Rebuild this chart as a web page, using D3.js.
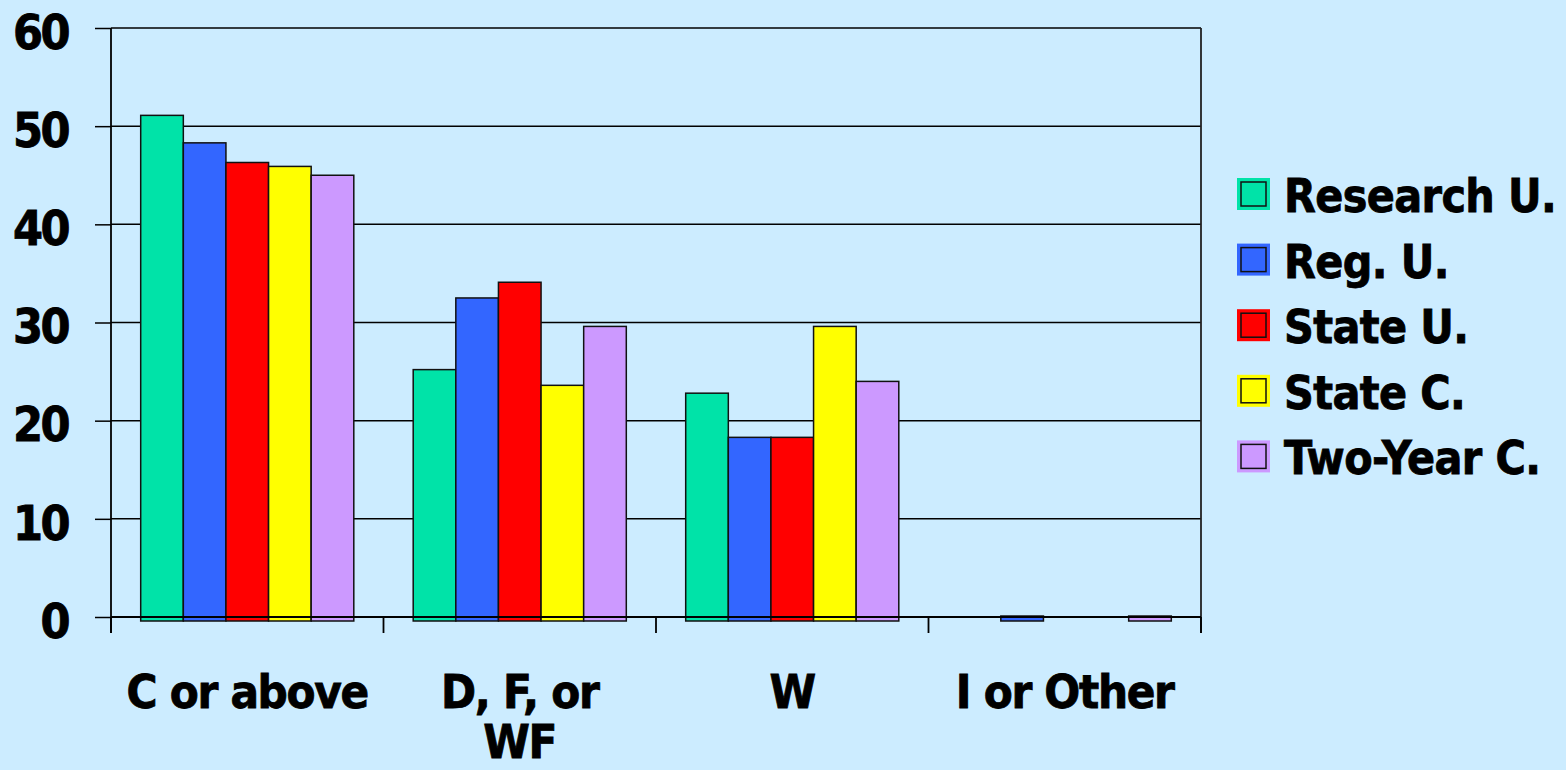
<!DOCTYPE html>
<html><head><meta charset="utf-8">
<script src="https://cdn.jsdelivr.net/npm/d3@7"></script>
<style>
html,body{margin:0;padding:0;background:#CCECFF;}
svg{display:block;}
text{font-family:"DejaVu Sans Condensed","DejaVu Sans",sans-serif;font-weight:bold;fill:#000;stroke:#000;stroke-width:0.8px;}
</style></head>
<body>
<svg id="chart" width="1566" height="770"></svg>
<script>
const categories = ["C or above", "D, F, or WF", "W", "I or Other"];
const categoryLines = [["C or above"], ["D, F, or", "WF"], ["W"], ["I or Other"]];
const seriesNames = ["Research U.", "Reg. U.", "State U.", "State C.", "Two-Year C."];
const seriesColors = ["#00E3A8", "#3366FF", "#FF0000", "#FFFF00", "#CC99FF"];
const researchU = [51.1, 25.2, 22.8, 0];
const regU = [48.3, 32.5, 18.3, 0.1];
const stateU = [46.3, 34.1, 18.3, 0];
const stateC = [45.9, 23.6, 29.6, 0];
const twoYearC = [45.0, 29.6, 24.0, 0.1];
const yTicks = [0, 10, 20, 30, 40, 50, 60];

const seriesValues = [researchU, regU, stateU, stateC, twoYearC];
const svg = d3.select("#chart");
const m = {left: 111, right: 1201, top: 28, bottom: 617};

const x0 = d3.scaleBand().domain(categories).range([m.left, m.right]).paddingInner(0.218).paddingOuter(0.109);
const x1 = d3.scaleBand().domain(seriesNames).range([0, x0.bandwidth()]).padding(0);
const y = d3.scaleLinear().domain([0, 60]).range([m.bottom, m.top]);

// gridlines
svg.append("g").selectAll("line").data(yTicks.filter(d => d > 0)).join("line")
  .attr("x1", m.left).attr("x2", m.right)
  .attr("y1", d => y(d)).attr("y2", d => y(d))
  .attr("stroke", "#000").attr("stroke-width", 1.5);
// right border
svg.append("line").attr("x1", m.right).attr("x2", m.right).attr("y1", m.top).attr("y2", m.bottom + 16)
  .attr("stroke", "#222").attr("stroke-width", 1.8);

// bars
const depth = 4;
const groups = svg.append("g").selectAll("g").data(categories).join("g")
  .attr("transform", d => `translate(${x0(d)},0)`);
groups.selectAll("rect")
  .data((c, ci) => seriesNames.map((s, si) => ({s, si, v: seriesValues[si][ci]})).filter(d => d.v > 0))
  .join("rect")
  .attr("x", d => x1(d.s)).attr("width", x1.bandwidth())
  .attr("y", d => y(d.v)).attr("height", d => y(0) + depth - y(d.v))
  .attr("fill", d => seriesColors[d.si])
  .attr("stroke", "#111").attr("stroke-width", 1.5);

// y axis
const yAxis = d3.axisLeft(y).tickValues(yTicks).tickSize(16).tickPadding(27);
const gy = svg.append("g").attr("transform", `translate(${m.left},0)`).call(yAxis);
gy.select(".domain").attr("stroke", "#000").attr("stroke-width", 1.8).attr("d", `M0,${m.top}V${m.bottom + 16}`);
gy.selectAll(".tick line").attr("stroke", "#000").attr("stroke-width", 1.5);
gy.selectAll(".tick text").attr("font-size", 48).attr("letter-spacing", -2.5)
  .attr("font-family", null).attr("dy", "0.42em").attr("fill", "#000");

// x axis baseline and ticks
svg.append("line").attr("x1", m.left).attr("x2", m.right).attr("y1", y(0)).attr("y2", y(0))
  .attr("stroke", "#000").attr("stroke-width", 2);
const boundaries = categories.map(c => x0(c) - x0.step() * x0.paddingInner() / 2).concat([m.right]);
svg.append("g").selectAll("line").data(boundaries).join("line")
  .attr("x1", d => d).attr("x2", d => d).attr("y1", y(0)).attr("y2", y(0) + 16)
  .attr("stroke", "#000").attr("stroke-width", 1.8);

// x labels
const xl = svg.append("g").selectAll("text").data(categories).join("text")
  .attr("x", d => x0(d) + x0.bandwidth() / 2)
  .attr("y", 708)
  .attr("text-anchor", "middle").attr("font-size", 47).attr("letter-spacing", -1.3);
xl.each(function(d, i) {
  const t = d3.select(this);
  categoryLines[i].forEach((line, li) => {
    t.append("tspan").attr("x", x0(d) + x0.bandwidth() / 2).attr("dy", li === 0 ? 0 : 50).text(line);
  });
});

// legend
const lg = svg.append("g").selectAll("g").data(seriesNames).join("g")
  .attr("transform", (d, i) => `translate(1237,${178 + i * 65.6})`);
lg.append("rect").attr("width", 33).attr("height", 32).attr("fill", (d, i) => seriesColors[i]);
lg.append("rect").attr("x", 4).attr("y", 4).attr("width", 25).attr("height", 24)
  .attr("fill", "none").attr("stroke", "#111").attr("stroke-width", 1.5);
lg.append("text").attr("x", 47).attr("y", 34).attr("font-size", 46).attr("letter-spacing", -0.6).text(d => d);
</script>
</body></html>
